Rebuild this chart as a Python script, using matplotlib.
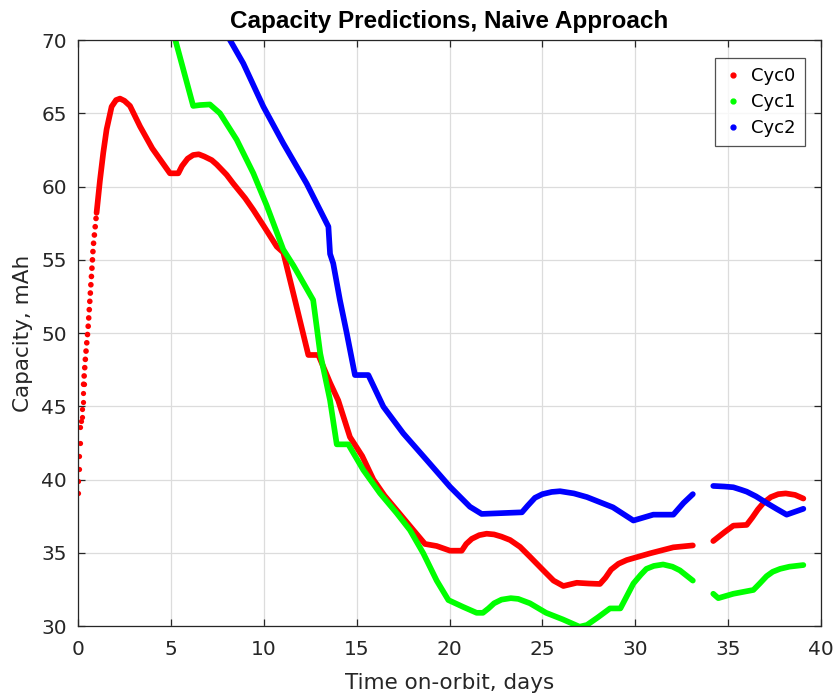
import numpy as np
import matplotlib
matplotlib.use("Agg")
import matplotlib.pyplot as plt

plt.rcParams['font.family'] = ['DejaVu Sans']

nan = np.nan

# Cyc0 (red)
cyc0_x = [0.0, 0.02, 0.05, 0.07, 0.10, 0.11, 0.16, 0.20, 0.22, 0.25, 0.27, 0.30,
          0.4, 0.54, 0.74, 0.82, 1.0, 1.18, 1.36, 1.54, 1.81, 2.05, 2.26, 2.5, 2.8, 3.34,
          4.0, 4.95, 5.4, 5.6, 5.9, 6.2, 6.5, 6.8, 7.2, 7.47, 8.0, 8.36, 9.0, 9.44, 10.0,
          10.7, 11.05, 11.68, 12.4, 12.94, 13.57, 14.01, 14.64, 15.3, 15.9, 16.5, 17.16,
          18.05, 18.68, 19.31, 20.03, 20.66, 20.9, 21.2, 21.6, 22.0, 22.4, 22.8, 23.26,
          23.8, 24.33, 25.05, 25.6, 26.13, 26.85, 27.5, 28.1, 28.4, 28.7, 29.1, 29.54,
          30.8, 32.05, 33.1, nan, 34.2, 34.8, 35.28, 36.0, 36.3, 36.6, 36.9, 37.3, 37.7,
          38.1, 38.6, 39.05]
cyc0_y = [39.1, 39.9, 40.7, 41.6, 42.5, 43.6, 44.0, 44.3, 44.8, 45.3, 45.9, 46.5,
          48.3, 50.3, 54.2, 55.9, 58.2, 60.4, 62.3, 63.9, 65.45, 65.9, 66.0, 65.85, 65.5, 64.1,
          62.6, 60.9, 60.9, 61.4, 61.9, 62.15, 62.2, 62.05, 61.8, 61.5, 60.8, 60.2, 59.2, 58.4, 57.3,
          55.9, 55.5, 52.25, 48.5, 48.5, 46.6, 45.4, 42.9, 41.6, 40.0, 38.9, 37.9,
          36.55, 35.6, 35.46, 35.14, 35.14, 35.6, 35.95, 36.2, 36.3, 36.25, 36.1, 35.87,
          35.4, 34.73, 33.8, 33.1, 32.73, 32.95, 32.9, 32.87, 33.3, 33.85, 34.25, 34.5,
          34.96, 35.37, 35.5, nan, 35.8, 36.4, 36.85, 36.9, 37.4, 37.95, 38.4, 38.8, 39.0,
          39.05, 38.95, 38.7]

# Cyc1 (green)
cyc1_x = [5.22, 6.2, 6.57, 7.1, 7.64, 8.54, 9.44, 10.16, 11.05, 11.6, 12.66, 13.04,
          13.57, 13.93, 14.55, 15.36, 16.26, 17.16, 17.87, 18.59, 19.31, 19.94, 20.74,
          21.46, 21.8, 22.1, 22.4, 22.8, 23.3, 23.7, 24.33, 25.2, 26.1, 27.0, 27.4, 28.0,
          28.64, 29.2, 29.9, 30.3, 30.6, 31.0, 31.5, 32.0, 32.4, 32.8, 33.1, nan, 34.2,
          34.47, 35.28, 36.36, 36.7, 37.07, 37.4, 37.8, 38.3, 39.05]
cyc1_y = [70.1, 65.5, 65.56, 65.6, 65.0, 63.2, 60.9, 58.7, 55.7, 54.6, 52.25, 48.6,
          45.4, 42.4, 42.4, 40.65, 39.06, 37.7, 36.55, 34.96, 33.1, 31.77, 31.3,
          30.9, 30.9, 31.2, 31.55, 31.8, 31.9, 31.85, 31.55, 30.9, 30.45, 29.95, 30.07, 30.6,
          31.2, 31.2, 32.9, 33.5, 33.9, 34.1, 34.2, 34.05, 33.8, 33.4, 33.1, nan, 32.2,
          31.9, 32.2, 32.46, 32.9, 33.4, 33.7, 33.9, 34.05, 34.16]

# Cyc2 (blue)
cyc2_x = [8.09, 8.9, 9.98, 11.05, 12.31, 13.48, 13.57, 13.74, 14.1, 14.47, 14.91,
          15.63, 16.44, 17.51, 18.77, 20.03, 21.1, 21.73, 23.9, 24.2, 24.6, 25.0, 25.5,
          25.95, 26.7, 27.4, 28.8, 29.9, 30.97, 32.05, 32.6, 33.1, nan, 34.2, 34.8, 35.28,
          35.7, 36.0, 36.5, 37.07, 37.6, 38.15, 38.6, 39.05]
cyc2_y = [70.2, 68.4, 65.45, 62.95, 60.2, 57.26, 55.4, 54.75, 52.25, 49.98, 47.13,
          47.13, 44.97, 43.15, 41.33, 39.5, 38.14, 37.65, 37.76, 38.2, 38.75, 39.0, 39.15,
          39.2, 39.05, 38.8, 38.1, 37.2, 37.6, 37.6, 38.4, 39.0, nan, 39.56, 39.52, 39.47,
          39.3, 39.17, 38.85, 38.4, 38.0, 37.6, 37.8, 38.0]

series = [("Cyc0", cyc0_x, cyc0_y, "#ff0000"),
          ("Cyc1", cyc1_x, cyc1_y, "#00ff00"),
          ("Cyc2", cyc2_x, cyc2_y, "#0000ff")]

fig = plt.figure(figsize=(8.36, 6.97), dpi=100)
ax = fig.add_axes([78/836, 1-626/697, (821-78)/836, (626-40)/697])

tc = "#262626"
lw = 4.1
for name, xs, ys, c in series:
    xs = np.array(xs); ys = np.array(ys)
    if name == "Cyc0":
        # sparse early points drawn as dots, then a dotted stretch, then solid
        ax.plot(xs[:12], ys[:12], ".", color=c, ms=7.5, mew=0)
        ax.plot(xs[11:17], ys[11:17], color=c, lw=lw, linestyle=(0, (0.01, 1.45)),
                dash_capstyle="round")
        ax.plot(xs[16:], ys[16:], "-", color=c, lw=lw, solid_capstyle="round",
                solid_joinstyle="round")
    else:
        ax.plot(xs, ys, "-", color=c, lw=lw, solid_capstyle="round",
                solid_joinstyle="round")
    ax.plot([], [], ".", color=c, ms=7, label=name)

ax.set_xlim(0, 40)
ax.set_ylim(30, 70)
ax.set_xticks(np.arange(0, 41, 5))
ax.set_yticks(np.arange(30, 71, 5))
ax.grid(True, color="#dcdcdc", lw=0.9)
ax.set_axisbelow(True)
for s in ax.spines.values():
    s.set_color(tc)
    s.set_linewidth(0.9)
ax.tick_params(direction="in", length=5, width=0.9, colors=tc, labelsize=14.5,
               top=True, right=True)
ax.tick_params(axis="x", pad=10)
ax.tick_params(axis="y", pad=8)
ax.set_xlabel("Time on-orbit, days", fontsize=15.5, color=tc, labelpad=10)
ax.set_ylabel("Capacity, mAh", fontsize=15.5, color=tc, labelpad=6)
ax.set_title("Capacity Predictions, Naive Approach", fontsize=17.5, fontweight="bold",
             color="black", pad=9, family=["Liberation Sans", "DejaVu Sans"])

leg = ax.legend(loc="upper right",
                bbox_to_anchor=((805 - 78) / (821 - 78), (626 - 58) / (626 - 40)),
                bbox_transform=ax.transAxes, fontsize=13, frameon=True,
                fancybox=False, edgecolor=tc, handlelength=1.0, handletextpad=0.5,
                borderpad=0.5, labelspacing=0.45, borderaxespad=0)
leg.get_frame().set_linewidth(0.9)

fig.savefig("out.png", dpi=100)
